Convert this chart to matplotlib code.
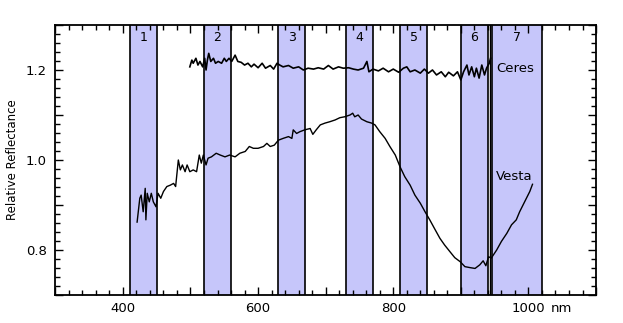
import numpy as np
import matplotlib
matplotlib.use('Agg')
from matplotlib import pyplot as plt
from matplotlib.ticker import FixedLocator, FuncFormatter, MultipleLocator

# filter bands (nm)
bands = [(410, 450), (520, 560), (630, 670), (730, 770), (810, 850), (900, 940), (946, 1020)]
band_names = ['1', '2', '3', '4', '5', '6', '7']
extra_line = 943

# Ceres spectrum
ceres_nm = [499, 502, 504, 508, 511, 514, 518, 521, 523, 525, 527, 530, 534, 537, 541, 546,
            550, 553, 557, 561, 566, 570, 575, 580, 585, 590, 594, 600, 606, 611, 618, 623,
            628, 632, 637, 645, 652, 660, 667, 674, 682, 689, 697, 704, 711, 719, 726, 734,
            741, 748, 756, 761, 764, 770, 778, 785, 793, 800, 808, 815, 820, 825, 832, 840,
            846, 852, 858, 864, 871, 877, 882, 889, 895, 900, 904, 909, 912, 916, 920, 923,
            927, 931, 935, 938, 942, 944]
ceres_r = [1.207, 1.222, 1.215, 1.226, 1.211, 1.219, 1.207, 1.226, 1.200, 1.222, 1.237, 1.219,
           1.226, 1.215, 1.219, 1.215, 1.226, 1.219, 1.226, 1.219, 1.233, 1.219, 1.217, 1.211,
           1.215, 1.207, 1.213, 1.205, 1.215, 1.204, 1.210, 1.202, 1.215, 1.211, 1.207, 1.210,
           1.204, 1.207, 1.200, 1.204, 1.202, 1.205, 1.202, 1.210, 1.202, 1.207, 1.204, 1.205,
           1.202, 1.200, 1.204, 1.219, 1.196, 1.202, 1.198, 1.204, 1.196, 1.202, 1.195, 1.204,
           1.207, 1.196, 1.200, 1.193, 1.202, 1.193, 1.200, 1.189, 1.196, 1.185, 1.195, 1.187,
           1.196, 1.178, 1.196, 1.211, 1.189, 1.207, 1.185, 1.204, 1.182, 1.211, 1.189, 1.204,
           1.215, 1.226]

# Vesta spectrum
vesta_nm = [421, 425, 427, 430, 433, 434, 436, 439, 442, 445, 449, 452, 456, 460, 465, 470,
            475, 478, 482, 485, 488, 492, 495, 499, 504, 509, 513, 516, 519, 523, 526, 531,
            538, 544, 551, 558, 566, 573, 581, 587, 593, 600, 608, 613, 618, 624, 630, 637,
            645, 650, 652, 657, 662, 669, 677, 681, 686, 692, 699, 706, 714, 721, 728, 736,
            740, 743, 748, 753, 761, 768, 773, 780, 788, 795, 803, 810, 817, 825, 832, 840,
            847, 854, 862, 869, 876, 884, 891, 899, 906, 913, 921, 928, 933, 937, 941, 945,
            953, 960, 968, 975, 982, 987, 992, 997, 1002, 1006]
vesta_r = [0.862, 0.915, 0.922, 0.885, 0.937, 0.867, 0.926, 0.907, 0.926, 0.907, 0.896, 0.926,
           0.915, 0.930, 0.941, 0.944, 0.948, 0.941, 1.000, 0.978, 0.989, 0.974, 0.989, 0.974,
           0.978, 0.974, 1.011, 0.993, 1.011, 0.989, 1.004, 1.007, 1.015, 1.011, 1.007, 1.011,
           1.007, 1.015, 1.019, 1.030, 1.026, 1.026, 1.030, 1.037, 1.030, 1.033, 1.044, 1.048,
           1.052, 1.048, 1.067, 1.059, 1.063, 1.067, 1.070, 1.057, 1.067, 1.078, 1.082, 1.085,
           1.089, 1.094, 1.096, 1.100, 1.104, 1.096, 1.100, 1.091, 1.085, 1.082, 1.078, 1.063,
           1.048, 1.030, 1.011, 0.985, 0.963, 0.944, 0.922, 0.904, 0.885, 0.867, 0.845, 0.826,
           0.811, 0.796, 0.783, 0.774, 0.763, 0.761, 0.759, 0.767, 0.776, 0.765, 0.785, 0.782,
           0.800, 0.819, 0.837, 0.856, 0.867, 0.885, 0.900, 0.915, 0.930, 0.946]

plt.rcParams['font.family'] = ['DejaVu Sans']

fig = plt.figure(figsize=(6.23, 3.23), dpi=100)
ax = fig.add_axes([0.0888, 0.0867, 0.8679, 0.8359])

for (lo, hi), name in zip(bands, band_names):
    ax.axvspan(lo, hi, facecolor='#c6c6fa', edgecolor='none', zorder=0)
    ax.axvline(lo, color='black', lw=1.2, zorder=1)
    ax.axvline(hi, color='black', lw=1.2, zorder=1)
    ax.text((lo + hi) / 2, 1.273, name, ha='center', va='center', fontsize=9)
ax.axvline(extra_line, color='black', lw=1.0, zorder=1)

ax.plot(ceres_nm, ceres_r, color='black', lw=1.2, zorder=2)
ax.plot(vesta_nm, vesta_r, color='black', lw=1.0, zorder=2)
ax.text(952, 1.204, 'Ceres', ha='left', va='center', fontsize=9.5)
ax.text(952, 0.964, 'Vesta', ha='left', va='center', fontsize=9.5)

ax.set_xlim(300, 1100)
ax.set_ylim(0.7, 1.3)

ax.xaxis.set_major_locator(FixedLocator(np.arange(300, 1101, 100)))
ax.xaxis.set_minor_locator(MultipleLocator(20))
ax.yaxis.set_major_locator(FixedLocator(np.arange(0.7, 1.31, 0.1)))
ax.yaxis.set_minor_locator(MultipleLocator(0.02))


def xfmt(v, pos):
    v = int(round(v))
    if v in (400, 600, 800, 1000):
        return str(v)
    return ''


def yfmt(v, pos):
    v = round(v, 2)
    if v in (0.8, 1.0, 1.2):
        return '%.1f' % v
    return ''


ax.xaxis.set_major_formatter(FuncFormatter(xfmt))
ax.yaxis.set_major_formatter(FuncFormatter(yfmt))
ax.tick_params(which='both', direction='in', top=True, right=True, width=1.0, labelsize=9.5)
ax.tick_params(which='major', length=6)
ax.tick_params(which='minor', length=3.8)
ax.tick_params(axis='y', pad=6)
ax.tick_params(axis='x', pad=5)
for s in ax.spines.values():
    s.set_linewidth(1.3)

# unit after the last x label
ax.text(1033, -0.026, 'nm', transform=ax.get_xaxis_transform(),
        ha='left', va='top', fontsize=9.5)

ax.set_ylabel('Relative Reflectance', fontsize=8.5)
ax.yaxis.set_label_coords(-0.068, 0.5)

fig.savefig('out.png', dpi=100)
